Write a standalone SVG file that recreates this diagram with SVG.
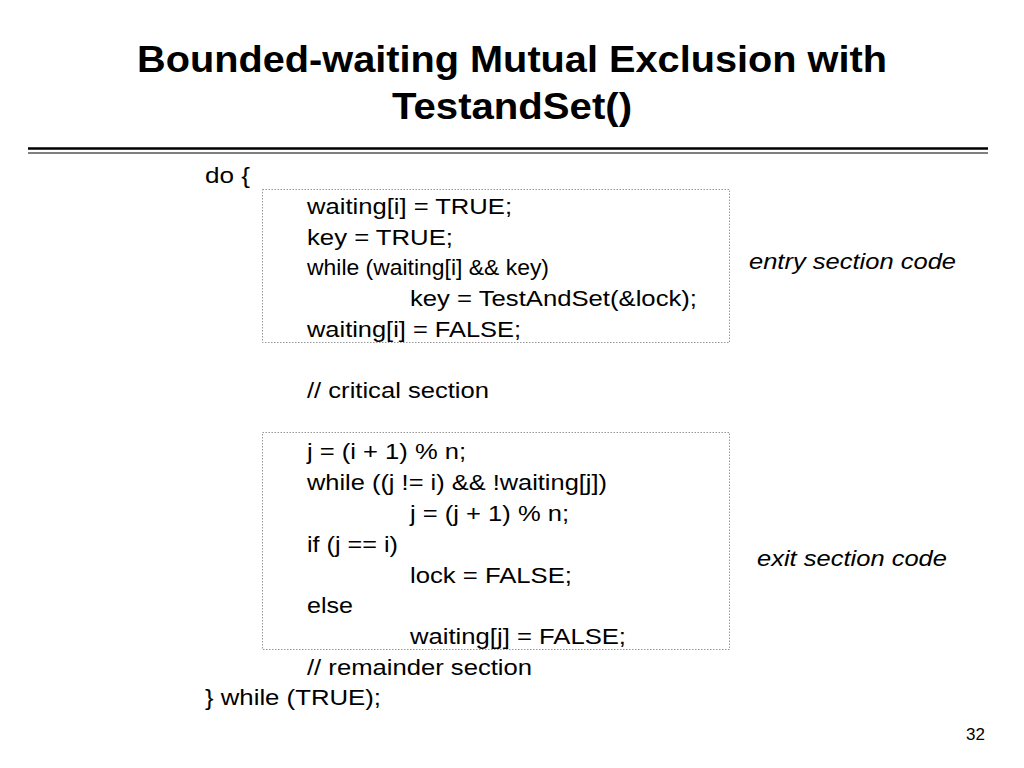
<svg xmlns="http://www.w3.org/2000/svg" width="1024" height="768" viewBox="0 0 1024 768">
<style>
.t{font-family:"Liberation Sans",Arial,sans-serif;font-size:22px;fill:#000}
.h{font-family:"Liberation Sans",Arial,sans-serif;font-size:36px;font-weight:bold}
.i{font-style:italic}
.box{fill:none;stroke:#999;stroke-width:1;stroke-dasharray:1.5 1.5}
</style>
<rect width="1024" height="768" fill="#fff"/>
<text class="h" x="137" y="72" textLength="750" lengthAdjust="spacingAndGlyphs">Bounded-waiting Mutual Exclusion with</text>
<text class="h" x="392" y="119" textLength="240" lengthAdjust="spacingAndGlyphs">TestandSet()</text>
<line x1="28" y1="148.5" x2="988" y2="148.5" stroke="#000" stroke-width="2.5"/>
<line x1="28" y1="153" x2="988" y2="153" stroke="#000" stroke-width="1"/>
<g id="entry"><rect class="box" x="262.5" y="189.5" width="467" height="153"/></g>
<g id="exit"><rect class="box" x="262.5" y="432.5" width="467" height="217"/></g>
<g id="code">
<text class="t" x="205" y="183" textLength="45" lengthAdjust="spacingAndGlyphs">do {</text>
<text class="t" x="307" y="214" textLength="205" lengthAdjust="spacingAndGlyphs">waiting[i] = TRUE;</text>
<text class="t" x="307" y="245" textLength="146" lengthAdjust="spacingAndGlyphs">key = TRUE;</text>
<text class="t" x="307" y="275" textLength="242" lengthAdjust="spacingAndGlyphs">while (waiting[i] &amp;&amp; key)</text>
<text class="t" x="410" y="306" textLength="287" lengthAdjust="spacingAndGlyphs">key = TestAndSet(&amp;lock);</text>
<text class="t" x="307" y="337" textLength="214" lengthAdjust="spacingAndGlyphs">waiting[i] = FALSE;</text>
<text class="t" x="307" y="398" textLength="182" lengthAdjust="spacingAndGlyphs">// critical section</text>
<text class="t" x="307" y="459" textLength="159" lengthAdjust="spacingAndGlyphs">j = (i + 1) % n;</text>
<text class="t" x="307" y="490" textLength="300" lengthAdjust="spacingAndGlyphs">while ((j != i) &amp;&amp; !waiting[j])</text>
<text class="t" x="410" y="521" textLength="159" lengthAdjust="spacingAndGlyphs">j = (j + 1) % n;</text>
<text class="t" x="307" y="552" textLength="91" lengthAdjust="spacingAndGlyphs">if (j == i)</text>
<text class="t" x="410" y="583" textLength="162" lengthAdjust="spacingAndGlyphs">lock = FALSE;</text>
<text class="t" x="307" y="613" textLength="46" lengthAdjust="spacingAndGlyphs">else</text>
<text class="t" x="410" y="644" textLength="216" lengthAdjust="spacingAndGlyphs">waiting[j] = FALSE;</text>
<text class="t" x="307" y="675" textLength="225" lengthAdjust="spacingAndGlyphs">// remainder section</text>
<text class="t" x="205" y="705" textLength="176" lengthAdjust="spacingAndGlyphs">} while (TRUE);</text>
<text class="t i" x="749" y="269" textLength="207" lengthAdjust="spacingAndGlyphs">entry section code</text>
<text class="t i" x="757" y="566" textLength="190" lengthAdjust="spacingAndGlyphs">exit section code</text>
<text class="t" x="966" y="740" style="font-size:17px">32</text>
</g>
</svg>
